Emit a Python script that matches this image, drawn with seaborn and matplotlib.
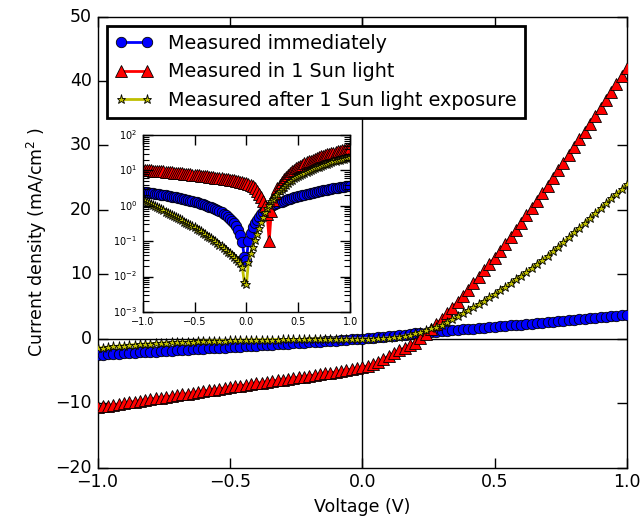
import matplotlib
matplotlib.use("Agg")
import matplotlib.pyplot as plt
import numpy as np
import seaborn as sns
from matplotlib.ticker import LogLocator, NullFormatter

# ---------------- data ----------------
voltage = [
    -1.00, -0.98, -0.96, -0.94, -0.92, -0.90, -0.88, -0.86, -0.84, -0.82,
    -0.80, -0.78, -0.76, -0.74, -0.72, -0.70, -0.68, -0.66, -0.64, -0.62,
    -0.60, -0.58, -0.56, -0.54, -0.52, -0.50, -0.48, -0.46, -0.44, -0.42,
    -0.40, -0.38, -0.36, -0.34, -0.32, -0.30, -0.28, -0.26, -0.24, -0.22,
    -0.20, -0.18, -0.16, -0.14, -0.12, -0.10, -0.08, -0.06, -0.04, -0.02,
    0.00, 0.02, 0.04, 0.06, 0.08, 0.10, 0.12, 0.14, 0.16, 0.18,
    0.20, 0.22, 0.24, 0.26, 0.28, 0.30, 0.32, 0.34, 0.36, 0.38,
    0.40, 0.42, 0.44, 0.46, 0.48, 0.50, 0.52, 0.54, 0.56, 0.58,
    0.60, 0.62, 0.64, 0.66, 0.68, 0.70, 0.72, 0.74, 0.76, 0.78,
    0.80, 0.82, 0.84, 0.86, 0.88, 0.90, 0.92, 0.94, 0.96, 0.98,
    1.00,
]

j_immediate = [
    -2.50, -2.46, -2.41, -2.36, -2.31, -2.26, -2.21, -2.17, -2.12, -2.07,
    -2.02, -1.97, -1.92, -1.87, -1.82, -1.77, -1.73, -1.68, -1.63, -1.58,
    -1.54, -1.49, -1.44, -1.40, -1.35, -1.30, -1.25, -1.20, -1.15, -1.10,
    -1.05, -1.00, -0.95, -0.90, -0.85, -0.80, -0.75, -0.70, -0.65, -0.59,
    -0.54, -0.48, -0.43, -0.37, -0.32, -0.27, -0.21, -0.15, -0.095, -0.035,
    0.03, 0.10, 0.17, 0.25, 0.32, 0.39, 0.48, 0.57, 0.66, 0.75,
    0.83, 0.90, 0.97, 1.04, 1.11, 1.18, 1.25, 1.32, 1.39, 1.46,
    1.52, 1.58, 1.65, 1.72, 1.79, 1.86, 1.93, 2.00, 2.08, 2.15,
    2.22, 2.30, 2.37, 2.44, 2.52, 2.59, 2.67, 2.74, 2.82, 2.89,
    2.97, 3.04, 3.12, 3.19, 3.27, 3.34, 3.41, 3.49, 3.56, 3.63,
    3.70,
]

j_in_light = [
    -10.60, -10.48, -10.35, -10.23, -10.10, -9.98, -9.86, -9.73, -9.61, -9.48,
    -9.36, -9.24, -9.11, -8.99, -8.86, -8.74, -8.62, -8.49, -8.37, -8.24,
    -8.12, -8.00, -7.87, -7.75, -7.62, -7.50, -7.38, -7.27, -7.15, -7.03,
    -6.91, -6.79, -6.68, -6.56, -6.44, -6.32, -6.21, -6.09, -5.97, -5.86,
    -5.74, -5.62, -5.50, -5.38, -5.27, -5.15, -5.00, -4.85, -4.70, -4.55,
    -4.40, -4.20, -3.95, -3.60, -3.15, -2.65, -2.20, -1.80, -1.40, -1.00,
    -0.60, 0.10, 0.70, 1.50, 2.30, 3.10, 3.95, 4.85, 5.75, 6.70,
    7.65, 8.60, 9.60, 10.60, 11.60, 12.60, 13.65, 14.70, 15.80, 16.90,
    18.00, 19.15, 20.30, 21.45, 22.60, 23.75, 24.95, 26.15, 27.35, 28.55,
    29.75, 30.95, 32.15, 33.35, 34.55, 35.75, 37.00, 38.25, 39.50, 40.75,
    42.00,
]

j_after_light = [
    -1.45, -1.36, -1.27, -1.19, -1.11, -1.04, -0.97, -0.91, -0.85, -0.79,
    -0.74, -0.69, -0.645, -0.60, -0.56, -0.52, -0.48, -0.45, -0.42, -0.39,
    -0.36, -0.335, -0.31, -0.29, -0.27, -0.25, -0.228, -0.208, -0.190, -0.173,
    -0.158, -0.144, -0.131, -0.120, -0.109, -0.100, -0.090, -0.080, -0.071, -0.063,
    -0.056, -0.050, -0.045, -0.040, -0.036, -0.032, -0.028, -0.024, -0.019, -0.007,
    0.006, 0.026, 0.045, 0.070, 0.110, 0.160, 0.240, 0.340, 0.480, 0.650,
    0.850, 1.08, 1.33, 1.60, 1.88, 2.20, 2.62, 3.06, 3.51, 3.97,
    4.44, 4.92, 5.42, 5.93, 6.46, 7.00, 7.55, 8.10, 8.66, 9.23,
    9.80, 10.40, 11.01, 11.63, 12.26, 12.90, 13.58, 14.28, 14.99, 15.73,
    16.50, 17.26, 18.02, 18.78, 19.54, 20.30, 21.04, 21.78, 22.52, 23.26,
    24.00,
]

labels = ["Measured immediately", "Measured in 1 Sun light",
          "Measured after 1 Sun light exposure"]
x_ticks = [-1.0, -0.5, 0.0, 0.5, 1.0]
y_ticks = [-20, -10, 0, 10, 20, 30, 40, 50]

# ---------------- style ----------------
plt.style.use("classic")
plt.rcParams["mathtext.fontset"] = "dejavusans"
plt.rcParams["font.family"] = ["DejaVu Sans"]
plt.rcParams["figure.facecolor"] = "white"
plt.rcParams["savefig.facecolor"] = "white"

styles = [
    dict(color="#0000ff", marker="o", markersize=7.5),
    dict(color="#ff0000", marker="^", markersize=8.5),
    dict(color="#bfbf00", marker="*", markersize=6.5),
]
series = [j_immediate, j_in_light, j_after_light]

fig = plt.figure(figsize=(6.44, 5.25), dpi=100)
ax = fig.add_axes([0.1514, 0.1091, 0.8222, 0.8594])

ax.axhline(0, color="black", lw=1, zorder=1)
ax.axvline(0, color="black", lw=1, zorder=1)

for ys, st, lab in zip(series, styles, labels):
    sns.lineplot(x=np.array(voltage), y=np.array(ys), ax=ax, label=lab,
                 color=st["color"], marker=st["marker"],
                 markersize=st["markersize"], markeredgecolor="black",
                 markeredgewidth=0.6, linewidth=2, zorder=3)

ax.set_xlim(-1, 1)
ax.set_ylim(-20, 50)
ax.set_xticks(x_ticks)
ax.set_yticks(y_ticks)
ax.tick_params(which="major", direction="in", length=7, width=1,
               labelsize=12.5, top=True, right=True)
ax.set_xlabel("Voltage (V)", fontsize=12.5)
ax.set_ylabel("Current density (mA/cm$^2$ )", fontsize=12.5)

leg = ax.legend(loc="upper left", fontsize=13.8, numpoints=2,
                fancybox=False, frameon=True, borderaxespad=0.5)
leg.get_frame().set_edgecolor("black")
leg.get_frame().set_linewidth(2)

# ---------------- inset ----------------
axin = fig.add_axes([0.2216, 0.406, 0.322, 0.3366])
for ys, st in zip(series, styles):
    sns.lineplot(x=np.array(voltage), y=np.abs(np.array(ys)), ax=axin,
                 color=st["color"], marker=st["marker"],
                 markersize=st["markersize"], markeredgecolor="black",
                 markeredgewidth=0.6, linewidth=2, legend=False)
axin.set_yscale("log")
axin.set_xlim(-1, 1)
axin.set_ylim(1e-3, 1e2)
axin.set_xticks(x_ticks)
axin.yaxis.set_major_locator(LogLocator(base=10, numticks=10))
axin.yaxis.set_minor_locator(LogLocator(base=10, subs=np.arange(2, 10), numticks=10))
axin.yaxis.set_minor_formatter(NullFormatter())
axin.tick_params(which="major", direction="in", length=7, width=1,
                 labelsize=7, top=True, right=True)
axin.tick_params(which="minor", direction="in", length=4, width=0.8,
                 top=True, right=True)
axin.set_xlabel("")
axin.set_ylabel("")

fig.savefig("out.png", dpi=100)
